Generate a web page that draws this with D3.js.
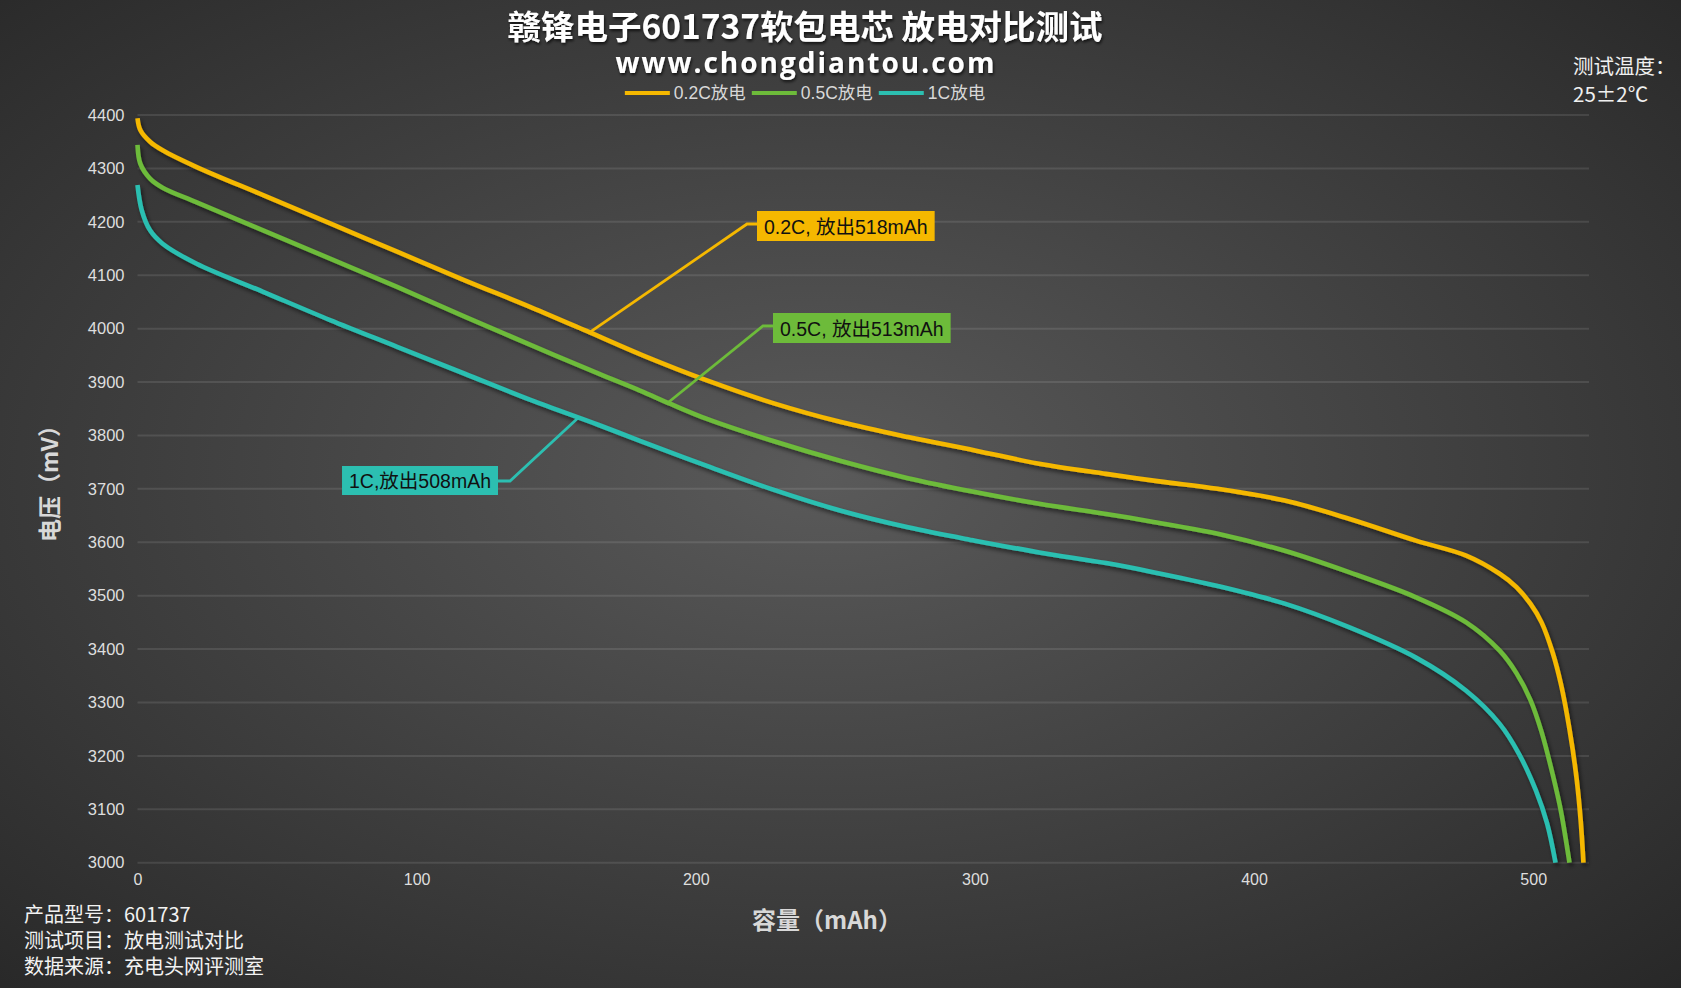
<!DOCTYPE html>
<html>
<head>
<meta charset="utf-8">
<script src="https://cdn.jsdelivr.net/npm/d3@7/dist/d3.min.js"></script>
<style>
html,body{margin:0;padding:0;background:#2a2a2a;}
svg{display:block;}
</style>
</head>
<body>
<svg id="chart" width="1681" height="988"></svg>
<script>
// ---------------- data ----------------
const seriesNames = ["0.2C放电", "0.5C放电", "1C放电"];
const seriesColors = ["#F5B800", "#6DBB3A", "#2CBFB1"];

const capacity02 = [0, 1, 4.5, 9, 21, 45, 69, 93, 117, 141, 162, 181, 204, 228, 252, 276, 300, 323, 347, 366, 387, 411, 434, 458, 476, 488, 494, 499, 503, 507, 510, 513, 515.5, 517, 518];
const voltage02  = [4394, 4372, 4350, 4334, 4303, 4250, 4197, 4144, 4091, 4040, 3993, 3950, 3903, 3860, 3825, 3797, 3772, 3747, 3728, 3714, 3700, 3678, 3644, 3603, 3575, 3541, 3516, 3485, 3450, 3393, 3333, 3250, 3160, 3080, 3000];

const capacity05 = [0, 1, 4.5, 9, 21, 45, 69, 93, 117, 141, 165, 180, 191, 204, 228, 252, 276, 300, 323, 347, 363, 387, 411, 434, 458, 476, 488, 494, 499, 503, 507, 510, 513];
const voltage05  = [4344, 4309, 4281, 4264, 4237, 4184, 4131, 4078, 4023, 3969, 3916, 3884, 3859, 3831, 3789, 3752, 3720, 3694, 3672, 3653, 3639, 3616, 3584, 3544, 3497, 3450, 3397, 3355, 3305, 3245, 3165, 3095, 3000];

const capacity1 = [0, 1.5, 4.5, 9, 21, 45, 69, 93, 117, 141, 165, 180, 204, 228, 252, 276, 300, 323, 347, 363, 387, 411, 434, 458, 476, 488, 495, 501, 505, 508];
const voltage1  = [4269, 4222, 4184, 4159, 4122, 4069, 4016, 3966, 3916, 3866, 3820, 3790, 3743, 3698, 3659, 3628, 3603, 3581, 3561, 3545, 3518, 3485, 3441, 3384, 3322, 3260, 3203, 3135, 3073, 3000];

const xTicks = [0, 100, 200, 300, 400, 500];
const yTicks = [3000, 3100, 3200, 3300, 3400, 3500, 3600, 3700, 3800, 3900, 4000, 4100, 4200, 4300, 4400];

const titleText = "赣锋电子601737软包电芯 放电对比测试";
const subtitleText = "www.chongdiantou.com";
const yTitle = "电压（mV）";
const xTitle = "容量（mAh）";
const tempLines = ["测试温度：", "25±2℃"];
const infoLines = ["产品型号：601737", "测试项目：放电测试对比", "数据来源：充电头网评测室"];

const annoTexts = ["0.2C, 放出518mAh", "0.5C, 放出513mAh", "1C,放出508mAh"];
const annoAnchorCap = [162, 190, 158];

// ---------------- layout ----------------
const W = 1681, H = 988;
const plot = {left: 137.5, right: 1589, top: 115, bottom: 862.7};
const cx = 805;
const cjk = "'Noto Sans CJK SC', 'Microsoft YaHei', sans-serif";
const latin = "'Liberation Sans', Arial, 'Noto Sans CJK SC', sans-serif";

const svg = d3.select("#chart");
const defs = svg.append("defs");

const bg = defs.append("radialGradient").attr("id", "bg")
  .attr("cx", "0.49").attr("cy", "0.48").attr("r", "0.74");
bg.append("stop").attr("offset", "0").attr("stop-color", "#5a5a5a");
bg.append("stop").attr("offset", "1").attr("stop-color", "#272727");

const sh = defs.append("filter").attr("id", "shadow")
  .attr("x", "-5%").attr("y", "-5%").attr("width", "110%").attr("height", "110%");
sh.append("feDropShadow").attr("dx", 2).attr("dy", 3).attr("stdDeviation", 2)
  .attr("flood-color", "#000").attr("flood-opacity", 0.55);

const tsh = defs.append("filter").attr("id", "tshadow");
tsh.append("feDropShadow").attr("dx", 1).attr("dy", 2).attr("stdDeviation", 1.5)
  .attr("flood-color", "#000").attr("flood-opacity", 0.7);

svg.append("rect").attr("width", W).attr("height", H).attr("fill", "url(#bg)");

const x = d3.scaleLinear().domain([0, 520]).range([plot.left, plot.right]);
const y = d3.scaleLinear().domain([3000, 4400]).range([plot.bottom, plot.top]);

// grid
svg.append("g").selectAll("line").data(yTicks).join("line")
  .attr("x1", plot.left).attr("x2", plot.right)
  .attr("y1", d => y(d)).attr("y2", d => y(d))
  .attr("stroke", "rgba(255,255,255,0.1)").attr("stroke-width", 2);

// y axis
const yAxis = svg.append("g").attr("transform", `translate(${plot.left - 13},0)`)
  .call(d3.axisLeft(y).tickValues(yTicks).tickFormat(d3.format("d")).tickSize(0).tickPadding(0));
yAxis.select(".domain").remove();
yAxis.selectAll("text").attr("fill", "#dedede").attr("font-size", 16.5).attr("font-family", latin);

// x axis
const xAxis = svg.append("g").attr("transform", `translate(0,${plot.bottom + 11})`)
  .call(d3.axisBottom(x).tickValues(xTicks).tickFormat(d3.format("d")).tickSize(0).tickPadding(0));
xAxis.select(".domain").remove();
xAxis.selectAll("text").attr("fill", "#dedede").attr("font-size", 16).attr("font-family", latin);

// axis titles
svg.append("text").attr("transform", "translate(48,478) rotate(-90)")
  .attr("text-anchor", "middle").attr("dominant-baseline", "central")
  .attr("fill", "#d8d8d8").attr("font-size", 23).attr("font-weight", 700)
  .attr("font-family", cjk).text(yTitle);
svg.append("text").attr("x", 827).attr("y", 918)
  .attr("text-anchor", "middle").attr("dominant-baseline", "central")
  .attr("fill", "#d8d8d8").attr("font-size", 24).attr("font-weight", 700)
  .attr("font-family", cjk).text(xTitle);

// lines
const series = [
  {cap: capacity02, volt: voltage02},
  {cap: capacity05, volt: voltage05},
  {cap: capacity1, volt: voltage1}
].map((s, i) => ({name: seriesNames[i], color: seriesColors[i],
  pts: s.cap.map((c, j) => [c, s.volt[j]])}));

const line = d3.line().x(d => x(d[0])).y(d => y(d[1])).curve(d3.curveCatmullRom.alpha(0.5));
const lg = svg.append("g").attr("filter", "url(#shadow)");
lg.selectAll("path").data(series.slice().reverse()).join("path")
  .attr("d", d => line(d.pts)).attr("fill", "none")
  .attr("stroke", d => d.color).attr("stroke-width", 4.6)
  .attr("stroke-linejoin", "round").attr("stroke-linecap", "butt");

// annotations
const annoLayout = [
  {elbow: [747, 224], box: [757, 211, 30], side: "right"},
  {elbow: [763, 326], box: [773, 313, 30], side: "right"},
  {elbow: [510, 481], box: [498, 466, 29], side: "left"}
];
const ag = svg.append("g");
series.forEach((s, i) => {
  const c = annoAnchorCap[i];
  const interp = d3.scaleLinear().domain(s.pts.map(p => p[0])).range(s.pts.map(p => p[1]));
  const ax = x(c), ay = y(interp(c));
  const L = annoLayout[i];
  const t = ag.append("text").attr("font-size", 19.5).attr("font-family", latin)
    .attr("fill", "#111").attr("dominant-baseline", "central").text(annoTexts[i]);
  const tw = t.node().getComputedTextLength();
  const bw = tw + 14;
  const bx = L.side === "right" ? L.box[0] : L.box[0] - bw;
  ag.insert("path", "text").attr("d", `M${ax},${ay}L${L.elbow[0]},${L.elbow[1]}L${L.box[0]},${L.elbow[1]}`)
    .attr("fill", "none").attr("stroke", s.color).attr("stroke-width", 2.8);
  ag.insert("rect", "text").attr("x", bx).attr("y", L.box[1]).attr("width", bw).attr("height", L.box[2])
    .attr("fill", s.color);
  t.attr("x", bx + 7).attr("y", L.box[1] + L.box[2] / 2 + 0.5);
});

// title
svg.append("text").attr("x", cx).attr("y", 24).attr("text-anchor", "middle")
  .attr("dominant-baseline", "central").attr("fill", "#fff")
  .attr("font-size", 33.5).attr("font-weight", 700).attr("font-family", cjk)
  .attr("filter", "url(#tshadow)").text(titleText);
svg.append("text").attr("x", cx + 1).attr("y", 61.5).attr("text-anchor", "middle")
  .attr("dominant-baseline", "central").attr("fill", "#fff")
  .attr("font-size", 28).attr("font-weight", 700).attr("font-family", "'Open Sans', sans-serif")
  .attr("letter-spacing", 2).attr("filter", "url(#tshadow)").text(subtitleText);

// legend
const leg = svg.append("g");
let lx = 0;
series.forEach((s, i) => {
  const g = leg.append("g").attr("transform", `translate(${lx},0)`);
  g.append("line").attr("x1", 0).attr("x2", 45).attr("y1", 0).attr("y2", 0)
    .attr("stroke", s.color).attr("stroke-width", 4);
  const t = g.append("text").attr("x", 49).attr("y", 0).attr("dominant-baseline", "central")
    .attr("fill", "#d8d8d8").attr("font-size", 17.5).attr("font-family", latin).text(s.name);
  lx += 49 + t.node().getComputedTextLength() + 6;
});
leg.attr("transform", `translate(${cx - (lx - 6) / 2},93)`);

// temperature note
svg.append("g").selectAll("text").data(tempLines).join("text")
  .attr("x", 1573).attr("y", (d, i) => 65 + i * 28).attr("dominant-baseline", "central")
  .attr("fill", "#f0f0f0").attr("font-size", 20.5).attr("font-family", cjk).text(d => d);

// info
svg.append("g").selectAll("text").data(infoLines).join("text")
  .attr("x", 24).attr("y", (d, i) => 913 + i * 26).attr("dominant-baseline", "central")
  .attr("fill", "#f2f2f2").attr("font-size", 20).attr("font-family", cjk).text(d => d);
</script>
</body>
</html>
